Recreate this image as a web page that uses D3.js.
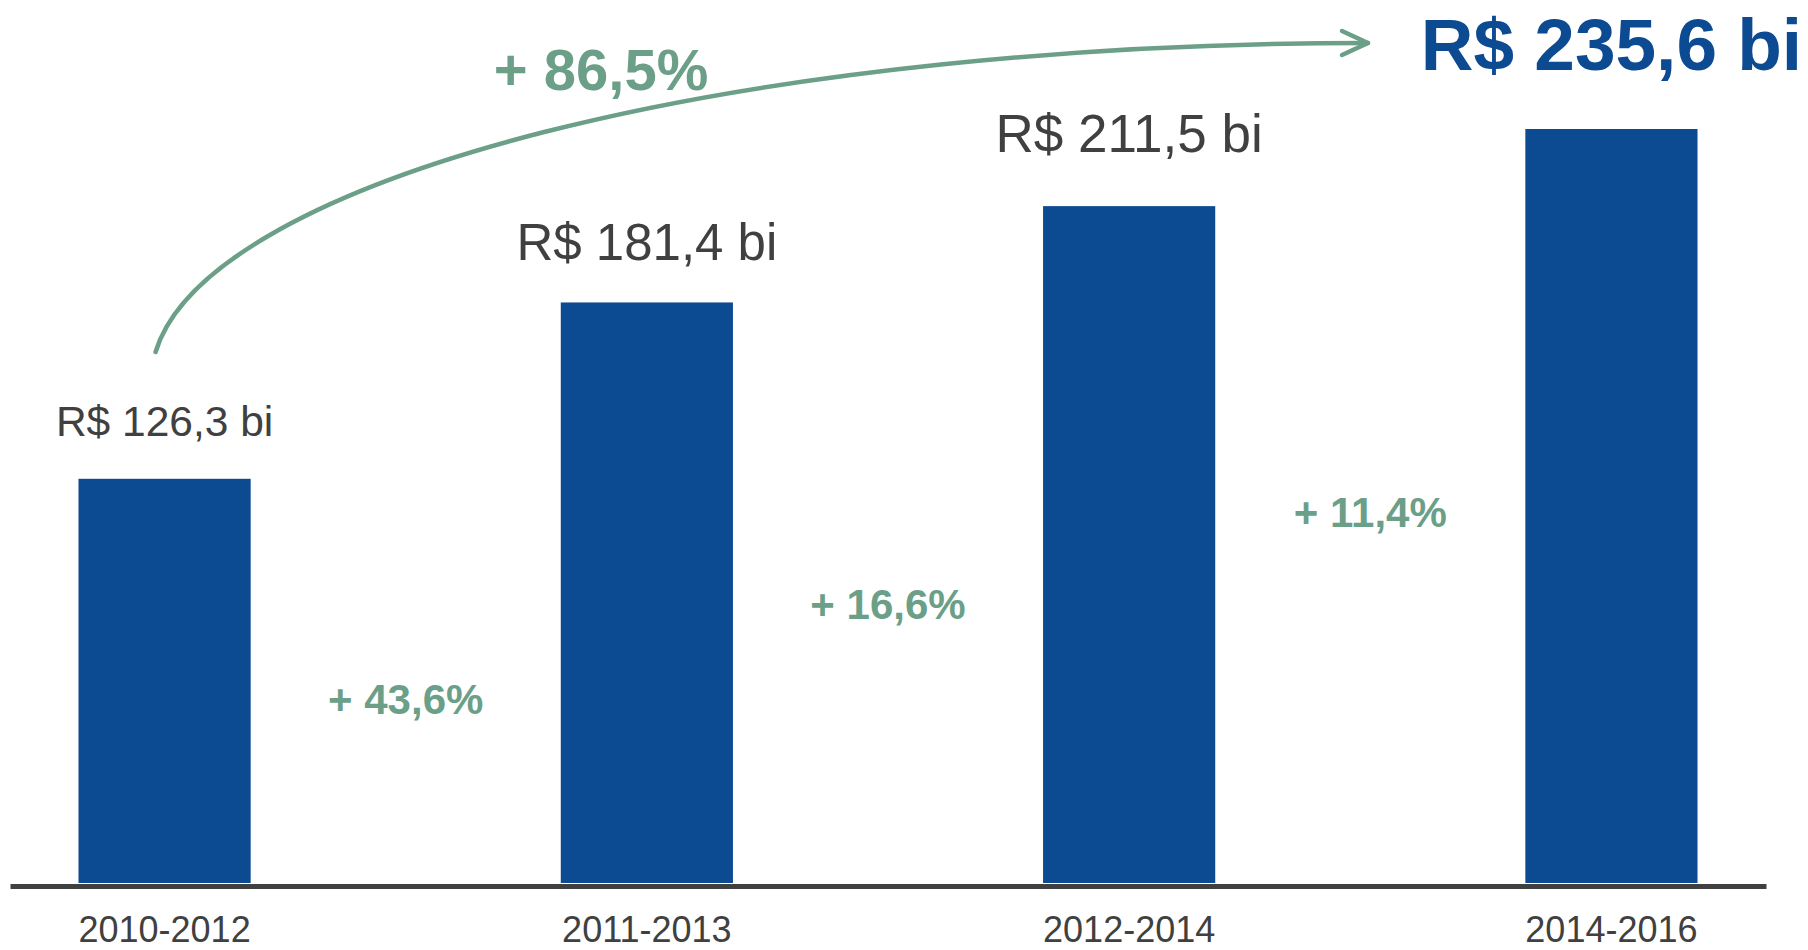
<!DOCTYPE html>
<html>
<head>
<meta charset="utf-8">
<script src="https://cdn.jsdelivr.net/npm/d3@7"></script>
<style>
  body { margin: 0; background: #fff; }
  svg { display: block; font-family: "Liberation Sans", Arial, sans-serif; }
</style>
</head>
<body>
<svg id="chart" width="1808" height="950"></svg>
<script>
// data
var periods = ['2010-2012', '2011-2013', '2012-2014', '2014-2016'];
var values = [126.3, 181.4, 211.5, 235.6];
var valueLabels = ['R$ 126,3 bi', 'R$ 181,4 bi', 'R$ 211,5 bi', 'R$ 235,6 bi'];
var growthLabels = ['+ 43,6%', '+ 16,6%', '+ 11,4%'];
var totalGrowth = '+ 86,5%';

// layout bits (not data)
var labelSize = [42.5, 51, 53];
var labelGap = [43, 42, 54];
var growthBaseline = [714, 619, 527];

var blue = '#0c4a92';
var green = '#6b9f88';
var dark = '#404040';

var svg = d3.select('#chart');

var x = d3.scaleBand()
  .domain(periods)
  .range([10, 1766])
  .paddingInner(0.643)
  .paddingOuter(0.142);

var y = d3.scaleLinear()
  .domain([0, 235.6])
  .range([883, 129]);

// bars
svg.append('g').selectAll('rect')
  .data(values)
  .enter().append('rect')
  .attr('x', function(d, i) { return x(periods[i]); })
  .attr('y', function(d) { return y(d); })
  .attr('width', x.bandwidth())
  .attr('height', function(d) { return y(0) - y(d); })
  .attr('fill', blue);

// axis
var axis = svg.append('g')
  .attr('transform', 'translate(0,886)')
  .call(d3.axisBottom(x).tickSize(0).tickSizeOuter(0).tickPadding(30.7));
axis.select('.domain').attr('stroke', dark).attr('stroke-width', 5);
axis.selectAll('text')
  .attr('font-size', 36)
  .attr('fill', dark)
  .style('font-family', '"Liberation Sans", Arial, sans-serif');

// value labels for first three bars
svg.append('g').selectAll('text')
  .data(values.slice(0, 3))
  .enter().append('text')
  .attr('x', function(d, i) { return x(periods[i]) + x.bandwidth() / 2; })
  .attr('y', function(d, i) { return y(d) - labelGap[i]; })
  .attr('text-anchor', 'middle')
  .attr('font-size', function(d, i) { return labelSize[i]; })
  .attr('fill', dark)
  .text(function(d, i) { return valueLabels[i]; });

// last value, highlighted
svg.append('text')
  .attr('x', x(periods[3]) + x.bandwidth() / 2)
  .attr('y', 70)
  .attr('text-anchor', 'middle')
  .attr('font-size', 73)
  .attr('font-weight', 'bold')
  .attr('fill', blue)
  .text(valueLabels[3]);

// growth between bars
svg.append('g').selectAll('text')
  .data(growthLabels)
  .enter().append('text')
  .attr('x', function(d, i) {
    return (x(periods[i]) + x(periods[i + 1])) / 2 + x.bandwidth() / 2;
  })
  .attr('y', function(d, i) { return growthBaseline[i]; })
  .attr('text-anchor', 'middle')
  .attr('font-size', 42)
  .attr('font-weight', 'bold')
  .attr('fill', green)
  .text(function(d) { return d; });

// curved arrow over the chart
var startX = x(periods[0]) + x.bandwidth() / 2 - 9;
var startY = 352;
var endX = 1368, endY = 43;
svg.append('path')
  .attr('d', 'M' + startX + ',' + startY + ' A1217,337 0 0 1 ' + endX + ',' + endY)
  .attr('fill', 'none')
  .attr('stroke', green)
  .attr('stroke-width', 4.5)
  .attr('stroke-linecap', 'round');

svg.append('path')
  .attr('d', 'M' + (endX - 26) + ',' + (endY - 12) + ' L' + endX + ',' + endY + ' L' + (endX - 26) + ',' + (endY + 12))
  .attr('fill', 'none')
  .attr('stroke', green)
  .attr('stroke-width', 4.5)
  .attr('stroke-linecap', 'round')
  .attr('stroke-linejoin', 'round');

svg.append('text')
  .attr('x', 601)
  .attr('y', 90)
  .attr('text-anchor', 'middle')
  .attr('font-size', 58)
  .attr('font-weight', 'bold')
  .attr('fill', green)
  .text(totalGrowth);
</script>
</body>
</html>
